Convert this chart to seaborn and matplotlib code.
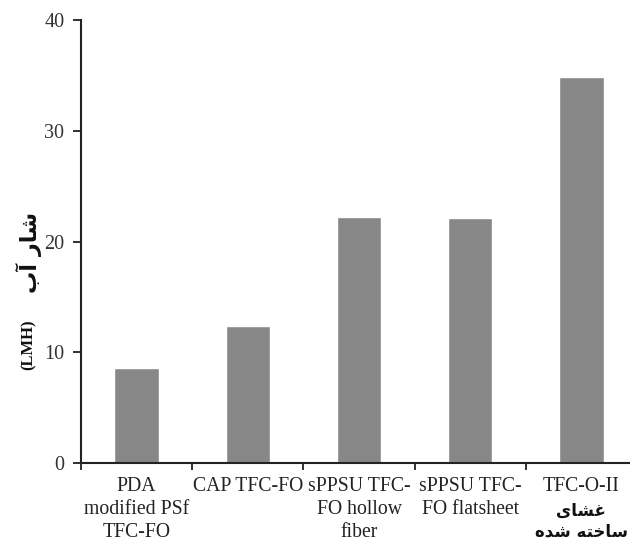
import matplotlib
matplotlib.use("Agg")
import matplotlib.pyplot as plt
import seaborn as sns
import pandas as pd

# data
categories = ["PDA\nmodified PSf\nTFC-FO", "CAP TFC-FO", "sPPSU TFC-\nFO hollow\nfiber",
              "sPPSU TFC-\nFO flatsheet", "TFC-O-II"]
water_flux = [8.6, 12.4, 22.2, 22.1, 34.9]
y_ticks = [0, 10, 20, 30, 40]

# Persian text written in presentation forms, visual order (matplotlib does no shaping)
# "شار آب"
fa_ylabel = "\uFE8F\uFE81 \uFEAD\uFE8E\uFEB7"
# "غشای" / "ساخته شده"
fa_made_1 = "\uFBFC\uFE8E\uFEB8\uFECF"
fa_made_2 = "\uFEE9\uFEAA\uFEB7 \uFEEA\uFE98\uFEA7\uFE8E\uFEB3"

sns.set_style("white")
plt.rcParams["font.family"] = ["Liberation Serif", "DejaVu Sans"]

df = pd.DataFrame({"membrane": categories, "flux": water_flux})

fig = plt.figure(figsize=(6.3, 5.41), dpi=100)
ax = fig.add_axes([0.1286, 0.1436, 0.8825, 0.8194])
sns.barplot(data=df, x="membrane", y="flux", color="#878787", saturation=1,
            width=0.4, ax=ax)

ax.set_ylim(0, 40)
ax.set_xlim(-0.5, len(categories) - 0.5)
ax.set_yticks(y_ticks)
ax.set_yticklabels([str(t) for t in y_ticks], fontsize=14.5, color="#333333")
ax.set_xticks(range(len(categories)))
ax.set_xticklabels(categories, fontsize=14.2, color="#222222", linespacing=1.28)
ax.set_xticks([i - 0.5 for i in range(len(categories) + 1)], minor=True)
ax.tick_params(axis="x", which="major", bottom=True, length=0, pad=10)
ax.tick_params(axis="x", which="minor", bottom=True, length=5, width=1.3,
               direction="out", color="#222222")
ax.tick_params(axis="y", left=True, length=6, width=1.3, direction="out",
               color="#222222", pad=6)

for side in ["top", "right"]:
    ax.spines[side].set_visible(False)
for side in ["left", "bottom"]:
    ax.spines[side].set_linewidth(1.5)
    ax.spines[side].set_color("#222222")

# y axis title: "(LMH)" below the bold Persian words
ax.set_xlabel("")
ax.set_ylabel("")
ax.text(-0.094, 0.267, "(LMH)", transform=ax.transAxes, rotation=90,
        ha="center", va="center", fontsize=12, fontweight="bold", color="#111111")
ax.text(-0.094, 0.475, fa_ylabel, transform=ax.transAxes, rotation=90,
        ha="center", va="center", fontsize=16, fontweight="bold",
        family="DejaVu Sans", color="#111111")

# bold Persian lines under the last tick label
ax.annotate(fa_made_1 + "\n" + fa_made_2, xy=(len(categories) - 1, 0),
            xycoords=("data", "axes fraction"), xytext=(0, -42),
            textcoords="offset points", ha="center", va="center",
            fontsize=12, fontweight="bold", family="DejaVu Sans",
            linespacing=1.2, color="#111111", annotation_clip=False)

fig.savefig("out.png", dpi=100)
